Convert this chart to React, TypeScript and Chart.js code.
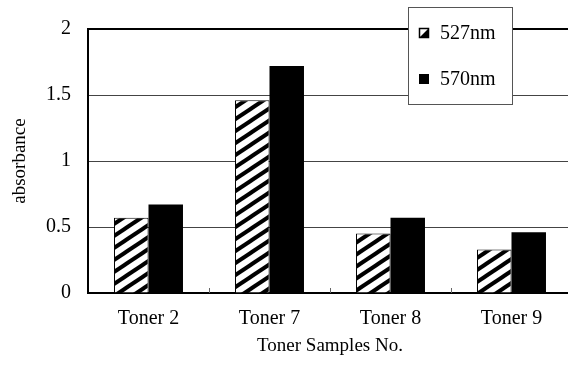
import { useEffect, useRef } from 'react';
import { Chart, registerables } from 'chart.js';

Chart.register(...registerables);

const categories = ['Toner 2', 'Toner 7', 'Toner 8', 'Toner 9'];
const seriesNames = ['527nm', '570nm'];
const series527 = [0.57, 1.46, 0.45, 0.33];
const series570 = [0.67, 1.72, 0.57, 0.46];
const yTicks = [0, 0.5, 1, 1.5, 2];
const yTickLabels = ['0', '0.5', '1', '1.5', '2'];
const xTitle = 'Toner Samples No.';
const yTitle = 'absorbance';

const FONT = "'Liberation Serif', 'Times New Roman', serif";

function makeHatch(): CanvasPattern | string {
  const c = document.createElement('canvas');
  c.width = 18;
  c.height = 12;
  const g = c.getContext('2d');
  if (!g) return '#888';
  g.fillStyle = '#fff';
  g.fillRect(0, 0, 18, 12);
  g.strokeStyle = '#000';
  g.lineWidth = 4;
  for (let k = -2; k <= 2; k++) {
    g.beginPath();
    g.moveTo(-18, 24 + k * 12);
    g.lineTo(36, -12 + k * 12);
    g.stroke();
  }
  return g.createPattern(c, 'repeat') || '#888';
}

const extrasPlugin = {
  id: 'extras',
  afterDatasetsDraw(chart: any) {
    const { ctx, chartArea, scales } = chart;
    const xs = scales.x;
    ctx.save();
    ctx.strokeStyle = '#666';
    ctx.lineWidth = 1;
    for (let i = 0; i < categories.length - 1; i++) {
      const bx = Math.round((xs.getPixelForValue(i) + xs.getPixelForValue(i + 1)) / 2) + 0.5;
      ctx.beginPath();
      ctx.moveTo(bx, chartArea.bottom);
      ctx.lineTo(bx, chartArea.bottom - 5);
      ctx.stroke();
    }
    ctx.restore();
  },
  afterDraw(chart: any) {
    const { ctx } = chart;
    ctx.save();
    const bx = 408.5, by = 7.5, bw = 104, bh = 97;
    ctx.fillStyle = '#fff';
    ctx.fillRect(bx, by, bw, bh);
    ctx.strokeStyle = '#555';
    ctx.lineWidth = 1;
    ctx.strokeRect(bx, by, bw, bh);
    const rows = [33, 79];
    ctx.font = `20px ${FONT}`;
    ctx.textBaseline = 'middle';
    ctx.textAlign = 'left';
    seriesNames.forEach((name, i) => {
      const cy = rows[i];
      const sx = 419, sy = cy - 5, s = 10;
      if (i === 0) {
        ctx.fillStyle = '#fff';
        ctx.fillRect(sx, sy, s, s);
        ctx.fillStyle = '#000';
        ctx.beginPath();
        ctx.moveTo(sx, sy + s);
        ctx.lineTo(sx + s, sy);
        ctx.lineTo(sx + s, sy + s);
        ctx.closePath();
        ctx.fill();
        ctx.strokeStyle = '#000';
        ctx.lineWidth = 1.5;
        ctx.strokeRect(sx + 0.5, sy + 0.5, s - 1, s - 1);
      } else {
        ctx.fillStyle = '#000';
        ctx.fillRect(sx, sy, s, s);
      }
      ctx.fillStyle = '#000';
      ctx.fillText(name, 440, cy + 1);
    });
    ctx.restore();
  },
};

export default function App() {
  const ref = useRef<HTMLCanvasElement>(null);
  useEffect(() => {
    if (!ref.current) return;
    const hatch = makeHatch();
    const chart = new Chart(ref.current, {
      type: 'bar',
      data: {
        labels: categories,
        datasets: [
          {
            label: seriesNames[0],
            data: series527,
            backgroundColor: hatch as any,
            borderColor: '#000',
            borderWidth: 1,
            categoryPercentage: 0.57,
            barPercentage: 1,
          },
          {
            label: seriesNames[1],
            data: series570,
            backgroundColor: '#000',
            borderWidth: 0,
            categoryPercentage: 0.57,
            barPercentage: 1,
          },
        ],
      },
      options: {
        animation: false,
        responsive: false,
        maintainAspectRatio: false,
        layout: { padding: { left: 0, right: 8, top: 29, bottom: 0 } },
        plugins: {
          legend: { display: false },
          tooltip: { enabled: false },
          title: { display: false },
        },
        scales: {
          x: {
            grid: { display: false, drawTicks: false },
            border: { display: true, color: '#000', width: 2 },
            ticks: { color: '#000', font: { family: FONT, size: 20 }, padding: 14, maxRotation: 0 },
            title: {
              display: true,
              text: xTitle,
              color: '#000',
              font: { family: FONT, size: 19 },
              padding: { top: 0, bottom: 22 },
            },
            afterFit: (s: any) => {
              s.height = 86;
            },
          },
          y: {
            min: 0,
            max: 2,
            afterBuildTicks: (s: any) => {
              s.ticks = yTicks.map((v) => ({ value: v }));
            },
            grid: {
              drawTicks: false,
              color: (c: any) => (c.tick && c.tick.value === 2 ? '#000' : '#444'),
              lineWidth: (c: any) => (c.tick && c.tick.value === 2 ? 2 : 1),
            },
            border: { display: true, color: '#000', width: 2 },
            ticks: {
              color: '#000',
              font: { family: FONT, size: 20 },
              padding: 17,
              callback: (value: any) => {
                const i = yTicks.indexOf(Number(value));
                return i >= 0 ? yTickLabels[i] : '';
              },
            },
            title: {
              display: true,
              text: yTitle,
              color: '#000',
              font: { family: FONT, size: 19 },
              padding: { top: 9, bottom: 0 },
            },
            afterFit: (s: any) => {
              s.width = 88;
            },
          },
        },
      },
      plugins: [extrasPlugin],
    });
    return () => chart.destroy();
  }, []);
  return (
    <div style={{ position: 'absolute', left: 0, top: 0, width: 568, height: 379, overflow: 'hidden', background: '#fff' }}>
      <canvas ref={ref} width={580} height={379} style={{ display: 'block' }} />
    </div>
  );
}
